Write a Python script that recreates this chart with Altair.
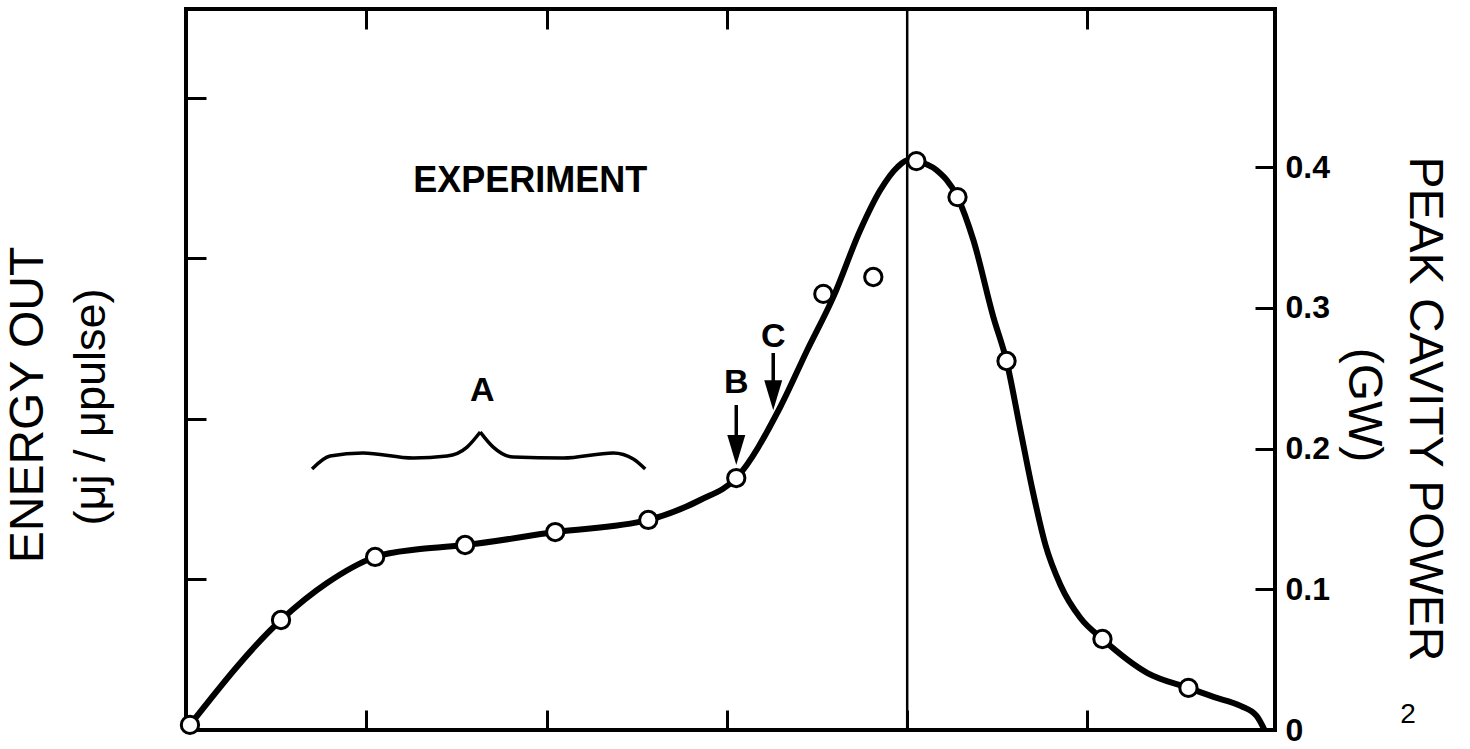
import altair as alt
import pandas as pd

# ---- scale extents -------------------------------------------------------
X_DOMAIN = [0, 6.04]            # horizontal axis units (tick marks at 1..5)
GW_DOMAIN = [0, 0.5125]         # peak cavity power, GW (right axis)
ENERGY_DOMAIN = [0.062, 4.553]  # energy out, arbitrary units (left axis)

# ---- measured points -----------------------------------------------------
meas_x = [0.022, 0.527, 1.049, 1.548, 2.048, 2.564, 3.052, 3.535, 3.812,
          4.051, 4.279, 4.551, 5.083, 5.560]
meas_gw = [0.0036, 0.0782, 0.1230, 0.1315, 0.1407, 0.1493, 0.1791, 0.3100,
           0.3220, 0.4044, 0.3788, 0.2623, 0.0647, 0.0299]

# ---- smooth curve through the data --------------------------------------
curve_x = [0.022, 0.527, 0.782, 1.049, 1.299, 1.548, 2.048, 2.564,
           2.852, 3.052, 3.296, 3.446, 3.590, 3.740, 3.851, 3.946, 4.007,
           4.051, 4.162, 4.279, 4.367, 4.478, 4.551, 4.628, 4.695, 4.767,
           4.850, 4.961, 5.083, 5.333, 5.560, 5.699, 5.849, 5.938, 5.982]
curve_gw = [0.0036, 0.0782, 0.1045, 0.1230, 0.1286, 0.1315, 0.1407,
            0.1493, 0.1635, 0.1791, 0.2296, 0.2701, 0.3077, 0.3554, 0.3838,
            0.4001, 0.4051, 0.4044, 0.3980, 0.3788, 0.3483, 0.2935, 0.2623,
            0.2132, 0.1706, 0.1315, 0.1031, 0.0796, 0.0647, 0.0405, 0.0299,
            0.0235, 0.0171, 0.0100, 0.0000]

# ---- brace over region A -------------------------------------------------
brace_side = ["L"] * 7 + ["R"] * 7
brace_x = [0.699, 0.799, 0.982, 1.260, 1.448, 1.559, 1.632,
           1.632, 1.704, 1.815, 2.092, 2.370, 2.481, 2.547]
brace_gw = [0.1855, 0.1947, 0.1969, 0.1933, 0.1947, 0.2011, 0.2118,
            0.2118, 0.2011, 0.1940, 0.1933, 0.1969, 0.1926, 0.1855]

# ---- annotations ---------------------------------------------------------
note_text = ["EXPERIMENT"]
note_x = [1.909]
note_gw = [0.390]

letter_text = ["A", "B", "C"]
letter_x = [1.643, 3.052, 3.257]
letter_gw = [0.241, 0.2466, 0.2793]

arrow_x = [3.052, 3.257]
arrow_top = [0.231, 0.268]
arrow_bot = [0.205, 0.245]
arrow_head = [0.199, 0.238]

FONT = "Liberation Sans"
W, H = 1089, 721


def x_enc(field):
    return alt.X(
        f"{field}:Q",
        scale=alt.Scale(domain=X_DOMAIN, nice=False, zero=False),
        axis=alt.Axis(orient="bottom", values=[1, 2, 3, 4, 5], labels=False,
                      domain=False, grid=False, tickSize=20, tickWidth=3,
                      tickColor="black", offset=-20, title=None),
    )


def y_enc(field):
    return alt.Y(
        f"{field}:Q",
        scale=alt.Scale(domain=GW_DOMAIN, nice=False, zero=False),
        axis=alt.Axis(orient="right", values=[0, 0.1, 0.2, 0.3, 0.4],
                      labelExpr="datum.value == 0 ? '0' : format(datum.value, '.1f')",
                      labelFont=FONT, labelFontSize=32, labelFontWeight="bold",
                      labelColor="black", labelPadding=10,
                      domain=False, grid=False, tickSize=20, tickWidth=3,
                      tickColor="black", offset=-20, title=None),
    )


# left energy axis + top ticks, carried by the vertical reference line
ref_df = pd.DataFrame({"x": [4.0], "lo": [ENERGY_DOMAIN[0]], "hi": [ENERGY_DOMAIN[1]]})
left = alt.Chart(ref_df).mark_rule(color="black", strokeWidth=2.5).encode(
    x=alt.X("x:Q", scale=alt.Scale(domain=X_DOMAIN, nice=False, zero=False),
            axis=alt.Axis(orient="top", values=[1, 2, 3, 5], labels=False,
                          domain=False, grid=False, tickSize=20, tickWidth=3,
                          tickColor="black", offset=-20, title=None)),
    y=alt.Y("lo:Q", scale=alt.Scale(domain=ENERGY_DOMAIN, nice=False, zero=False),
            axis=alt.Axis(orient="left", values=[1, 2, 3, 4], labels=False,
                          domain=False, grid=False, tickSize=20, tickWidth=3,
                          tickColor="black", offset=-20, title=None)),
    y2="hi:Q",
)

curve = alt.Chart(pd.DataFrame({"x": curve_x, "y": curve_gw})).mark_line(
    color="black", strokeWidth=6, interpolate="monotone"
).encode(x=x_enc("x"), y=y_enc("y"))

points = alt.Chart(pd.DataFrame({"x": meas_x, "y": meas_gw})).mark_point(
    shape="circle", filled=True, fill="white", stroke="black",
    strokeWidth=3, size=300, opacity=1
).encode(x=x_enc("x"), y=y_enc("y"))

brace = alt.Chart(pd.DataFrame({"x": brace_x, "y": brace_gw, "side": brace_side})).mark_line(
    color="black", strokeWidth=3.5, interpolate="monotone"
).encode(x=x_enc("x"), y=y_enc("y"), detail="side:N")

arrows_df = pd.DataFrame({"x": arrow_x, "y": arrow_top, "y2": arrow_bot, "head": arrow_head})
shafts = alt.Chart(arrows_df).mark_rule(color="black", strokeWidth=3.5).encode(
    x=x_enc("x"), y=y_enc("y"), y2="y2:Q"
)
heads = alt.Chart(arrows_df).mark_point(
    shape="M-0.6,-1L0.6,-1L0,1Z", filled=True, color="black",
    size=900, opacity=1
).encode(x=x_enc("x"), y=y_enc("head"))

note = alt.Chart(pd.DataFrame({"t": note_text, "x": note_x, "y": note_gw})).mark_text(
    font=FONT, fontSize=36, fontWeight="bold", color="black",
    align="center", baseline="middle"
).encode(x=x_enc("x"), y=y_enc("y"), text="t:N")

letters = alt.Chart(pd.DataFrame({"t": letter_text, "x": letter_x, "y": letter_gw})).mark_text(
    font=FONT, fontSize=34, fontWeight="bold", color="black",
    align="center", baseline="middle"
).encode(x=x_enc("x"), y=y_enc("y"), text="t:N")

one = pd.DataFrame({"k": [0]})


def side_text(txt, px, py, size, angle, weight="normal"):
    return alt.Chart(one).mark_text(
        text=txt, font=FONT, fontSize=size, fontWeight=weight, color="black",
        angle=angle, align="center", baseline="middle"
    ).encode(x=alt.value(px), y=alt.value(py))


titles = [
    side_text("ENERGY OUT", -157, 396, 48, 270),
    side_text("(\u03bcj / \u03bcpulse)", -95, 398, 45, 270),
    side_text("PEAK CAVITY POWER", 1238, 400, 48, 90),
    side_text("(GW)", 1177, 396, 48, 90),
    side_text("2", 1222, 706, 28, 0),
]

right = alt.layer(curve, points, brace, shafts, heads, note, letters, *titles)

chart = alt.layer(left, right).resolve_scale(
    x="independent", y="independent"
).properties(
    width=W, height=H,
    autosize=alt.AutoSizeParams(type="none"),
    padding={"left": 186, "top": 9, "right": 195, "bottom": 19},
    background="white",
).configure_view(stroke="black", strokeWidth=4)

chart.save("out.html", embed_options={"renderer": "svg", "actions": False})
